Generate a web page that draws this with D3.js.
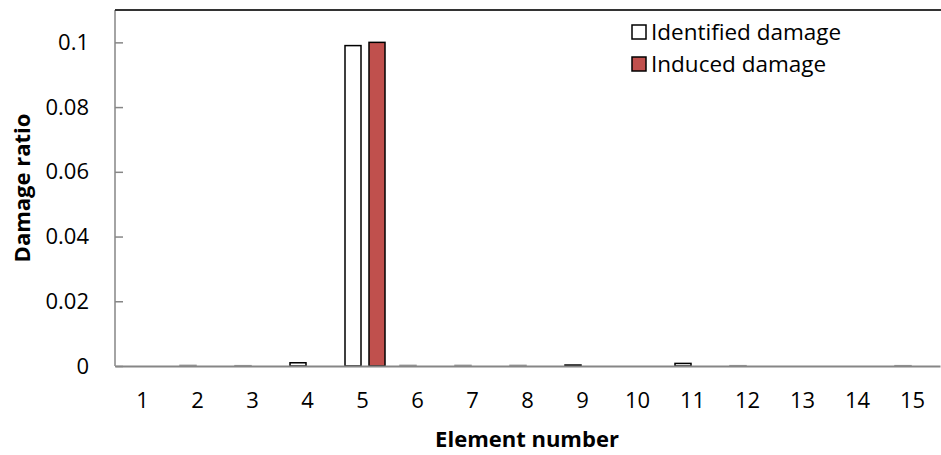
<!DOCTYPE html>
<meta charset="utf-8">
<style>
    html, body {
        margin: 0;
        padding: 0;
        background: #fff;
    }
    svg text {
        font-family: "Open Sans", "Noto Sans", sans-serif;
        fill: #000;
    }
</style>
<body>
<div id="chart"></div>
<script src="https://cdn.jsdelivr.net/npm/d3@7"></script>
<script>
    // data
    var elements = ["1", "2", "3", "4", "5", "6", "7", "8", "9", "10", "11", "12", "13", "14", "15"];
    var identified = [0, 0.0002, 0.0001, 0.001, 0.099, 0.0002, 0.0002, 0.0002, 0.0003, 0, 0.0008, 0.0001, 0, 0, 0.0001];
    var induced = [0, 0, 0, 0, 0.1, 0, 0, 0, 0, 0, 0, 0, 0, 0, 0];
    var yTicks = [0, 0.02, 0.04, 0.06, 0.08, 0.1];
    var seriesNames = ["Identified damage", "Induced damage"];

    var W = 941, H = 455;
    var margin = {top: 10, right: 1, bottom: 89, left: 115};
    var width = W - margin.left - margin.right,
        height = H - margin.top - margin.bottom;

    var svg = d3.select("#chart").append("svg")
        .attr("width", W)
        .attr("height", H);

    var g = svg.append("g")
        .attr("transform", "translate(" + margin.left + "," + margin.top + ")");

    var x = d3.scaleBand().domain(elements).range([0, width]);
    var y = d3.scaleLinear().domain([0, 0.11]).range([height, 0]);

    // bars within each category (width 16, gap 8)
    var barW = 16;
    var offsets = [-17.5, 6.5];
    var colors = ["#ffffff", "#c0504d"];

    [identified, induced].forEach(function(vals, s) {
        var rows = vals.map(function(v, i) { return {el: elements[i], v: v}; })
            .filter(function(d) { return d.v > 0; });
        g.append("g").selectAll("rect")
            .data(rows)
            .join("rect")
            .attr("x", function(d) { return x(d.el) + x.bandwidth() / 2 + offsets[s]; })
            .attr("y", function(d) { return y(d.v); })
            .attr("width", barW)
            .attr("height", function(d) { return y(0) - y(d.v); })
            .attr("fill", colors[s])
            .attr("stroke", function(d) { return d.v < 0.0003 ? "#999" : "#000"; })
            .attr("stroke-width", 1.5);
    });

    // y axis, ticks pointing inward
    var yAxis = d3.axisRight(y).tickValues(yTicks).tickSize(8).tickFormat(function(d) { return d === 0 ? "0" : String(+d.toFixed(2)); });
    var ya = g.append("g").call(yAxis);
    ya.select(".domain").remove();
    ya.selectAll("line").attr("stroke", "#868686").attr("stroke-width", 1.5);
    ya.selectAll("text")
        .attr("x", -26)
        .attr("text-anchor", "end")
        .style("font-size", "22px");

    g.append("line")
        .attr("x1", 0).attr("x2", 0)
        .attr("y1", 0).attr("y2", height)
        .attr("stroke", "#868686").attr("stroke-width", 1.5);

    // x axis without ticks
    var xa = g.append("g")
        .attr("transform", "translate(0," + height + ")")
        .call(d3.axisBottom(x).tickSize(0));
    xa.select(".domain").attr("stroke", "#868686").attr("stroke-width", 2);
    xa.selectAll("text")
        .attr("dy", "0")
        .attr("y", 42)
        .style("font-size", "22px");

    // top border
    g.append("line")
        .attr("x1", 0).attr("x2", width + margin.right)
        .attr("y1", 0).attr("y2", 0)
        .attr("stroke", "#333").attr("stroke-width", 2);

    // axis titles
    svg.append("text")
        .attr("x", 527)
        .attr("y", 447)
        .attr("text-anchor", "middle")
        .style("font-size", "22px")
        .style("font-weight", "bold")
        .text("Element number");

    svg.append("text")
        .attr("transform", "translate(30,188) rotate(-90)")
        .attr("text-anchor", "middle")
        .style("font-size", "22px")
        .style("font-weight", "bold")
        .text("Damage ratio");

    // legend
    var legend = svg.append("g").attr("transform", "translate(632,25)");
    seriesNames.forEach(function(name, i) {
        var row = legend.append("g").attr("transform", "translate(0," + (i * 32) + ")");
        row.append("rect")
            .attr("width", 14).attr("height", 14)
            .attr("fill", colors[i])
            .attr("stroke", "#000").attr("stroke-width", 1.5);
        row.append("text")
            .attr("x", 19).attr("y", 15)
            .style("font-size", "22.5px")
            .text(name);
    });
</script>
</body>
